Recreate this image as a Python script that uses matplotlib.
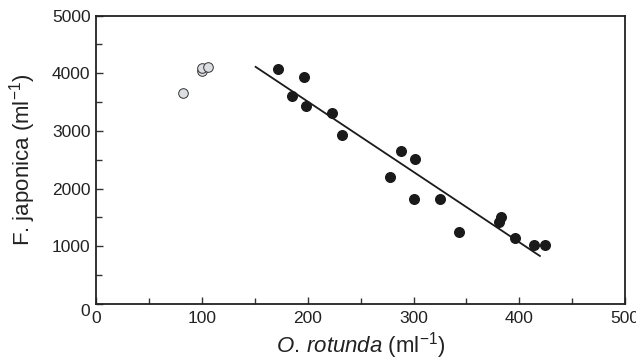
import matplotlib
matplotlib.use('Agg')
import matplotlib.pyplot as plt
from matplotlib.ticker import MultipleLocator

plt.rcParams['font.family'] = 'Liberation Sans'
plt.rcParams['mathtext.fontset'] = 'custom'
plt.rcParams['mathtext.rm'] = 'Liberation Sans'
plt.rcParams['mathtext.it'] = 'Liberation Sans:italic'

# open (grey) points, excluded from the fit
open_x = [82.5, 99.8, 100.5, 105.9]
open_y = [3653, 4040, 4098, 4116]

# filled points
filled_x = [172.3, 196.9, 185.3, 198.4, 223.3, 232.2, 288.2, 301.2, 278.2,
            300.1, 324.6, 343.1, 381.0, 383.0, 396.0, 414.0, 424.4]
filled_y = [4069, 3931, 3607, 3434, 3312, 2931, 2659, 2509, 2208,
            1815, 1821, 1254, 1428, 1503, 1139, 1017, 1017]

# regression line end points
line_x = [150.8, 419.4]
line_y = [4110, 832]

fig = plt.figure(figsize=(6.36, 3.61), dpi=100)
ax = fig.add_axes([0.151, 0.158, 0.832, 0.799])

ax.plot(line_x, line_y, color='#1a1a1a', lw=1.3, zorder=2)
ax.scatter(filled_x, filled_y, s=48, color='#1a1a1a', edgecolor='#1a1a1a', zorder=3)
ax.scatter(open_x, open_y, s=48, color='#dcdee2', edgecolor='#333333', lw=0.7, zorder=3)

ax.set_xlim(0, 500)
ax.set_ylim(0, 5000)
ax.xaxis.set_major_locator(MultipleLocator(100))
ax.xaxis.set_minor_locator(MultipleLocator(50))
ax.yaxis.set_major_locator(MultipleLocator(1000))
ax.yaxis.set_minor_locator(MultipleLocator(500))
ax.tick_params(which='both', direction='in', top=False, right=False,
               width=1, color='#333333', labelsize=12.5, labelcolor='#222222')
ax.tick_params(which='major', length=5)
ax.tick_params(which='minor', length=4)
ax.tick_params(axis='x', pad=5)
ax.tick_params(axis='y', pad=4)

for sp in ax.spines.values():
    sp.set_linewidth(1.3)
    sp.set_color('#222222')

ax.set_xlabel(r'$\mathit{O.}\,\mathit{rotunda}$ (ml$^{-1}$)', fontsize=16, color='#222222', labelpad=3)
ax.set_ylabel(r'F. japonica (ml$^{-1}$)', fontsize=16, color='#222222', labelpad=10)

# the "0" on the y axis sits a little below its tick
fig.canvas.draw()
for lab in ax.get_yticklabels():
    if lab.get_text() == '0':
        lab.set_va('top')

fig.savefig('out.png', dpi=100)
